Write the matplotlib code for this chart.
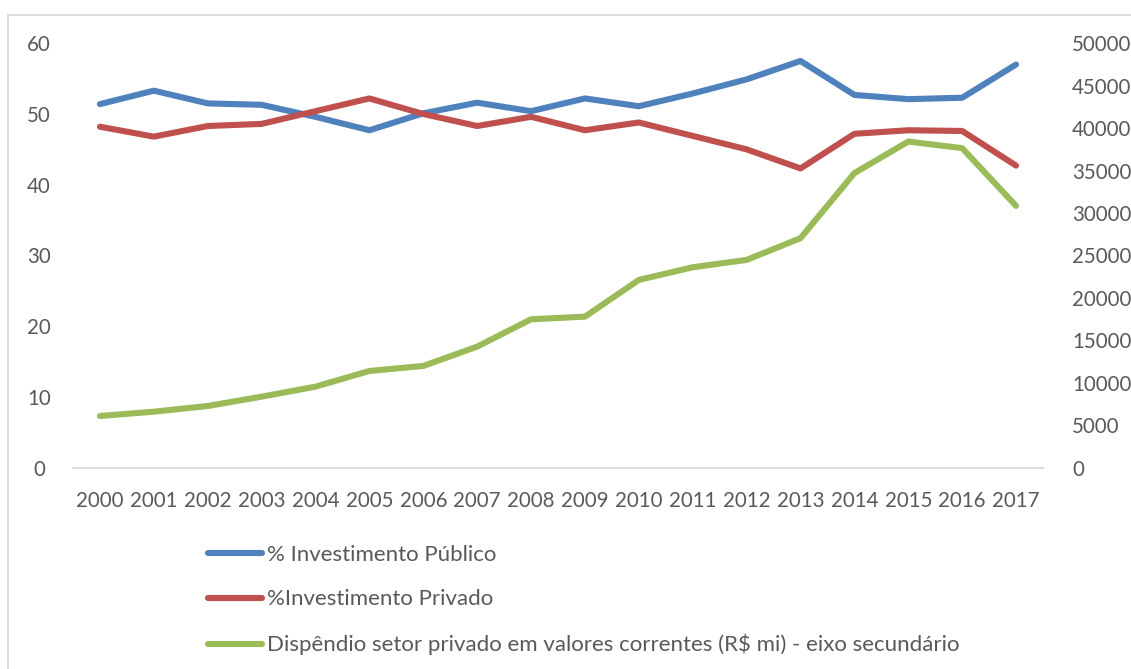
import matplotlib
matplotlib.use("Agg")
import matplotlib.pyplot as plt
from matplotlib.patches import Rectangle

plt.rcParams['font.family'] = ['Lato', 'DejaVu Sans']

years = [str(y) for y in range(2000, 2018)]
pct_publico = [51.4, 53.3, 51.5, 51.3, 49.6, 47.7, 50.1, 51.6, 50.4, 52.2,
               51.1, 52.9, 54.9, 57.5, 52.7, 52.1, 52.3, 57.0]
pct_privado = [48.2, 46.8, 48.3, 48.6, 50.4, 52.2, 50.0, 48.3, 49.6, 47.7,
               48.8, 46.9, 45.0, 42.3, 47.2, 47.7, 47.6, 42.7]
dispendio_privado = [6070, 6580, 7250, 8350, 9530, 11380, 11970, 14250, 17470, 17780,
                     22110, 23600, 24470, 27030, 34700, 38420, 37640, 30840]

labels = ["% Investimento Público",
          "%Investimento Privado",
          "Dispêndio setor privado em valores correntes (R$ mi) - eixo secundário"]
colors = ["#4F81BD", "#C0504D", "#9BBB59"]
text_color = "#595959"
axis_color = "#D9D9D9"

W, H = 1131, 669
fig = plt.figure(figsize=(W / 100, H / 100), dpi=100)
fig.patch.set_facecolor("white")

# chart frame
fig.add_artist(Rectangle((8 / W, -0.1), 1.2, (H - 15) / H + 0.1,
                         transform=fig.transFigure, fill=False,
                         edgecolor=axis_color, linewidth=1.3))

ax = fig.add_axes([73 / W, (H - 467.5) / H, (1043 - 73) / W, (467.5 - 43.3) / H])
ax2 = ax.twinx()

x = list(range(len(years)))
style = dict(lw=4.4, solid_capstyle='round', solid_joinstyle='round')
l1, = ax.plot(x, pct_publico, color=colors[0], **style)
l2, = ax.plot(x, pct_privado, color=colors[1], **style)
l3, = ax2.plot(x, dispendio_privado, color=colors[2], **style)

ax.set_xlim(-0.5, len(years) - 0.5)
ax.set_ylim(0, 60)
ax2.set_ylim(0, 50000)
ax.set_yticks(range(0, 61, 10))
ax2.set_yticks(range(0, 50001, 5000))
ax.set_xticks(x)
ax.set_xticklabels(years)

for a in (ax, ax2):
    for s in a.spines.values():
        s.set_visible(False)
    a.tick_params(length=0, labelsize=14.8, colors=text_color)
ax.spines['bottom'].set_visible(True)
ax.spines['bottom'].set_color(axis_color)
ax.spines['bottom'].set_linewidth(1.3)
ax.tick_params(axis='x', pad=17)
ax.tick_params(axis='y', pad=0)
ax2.tick_params(axis='y', pad=21)
for t in ax.get_yticklabels():
    t.set_horizontalalignment('center')
    t.set_x(-0.035)

fig.legend([l1, l2, l3], labels, loc='upper left',
           bbox_to_anchor=(199 / W, (H - 536) / H), frameon=False,
           fontsize=16, labelcolor=text_color, handlelength=2.45,
           handletextpad=0.22, labelspacing=1.1, borderaxespad=0)

fig.savefig("out.png", dpi=100, facecolor="white")
